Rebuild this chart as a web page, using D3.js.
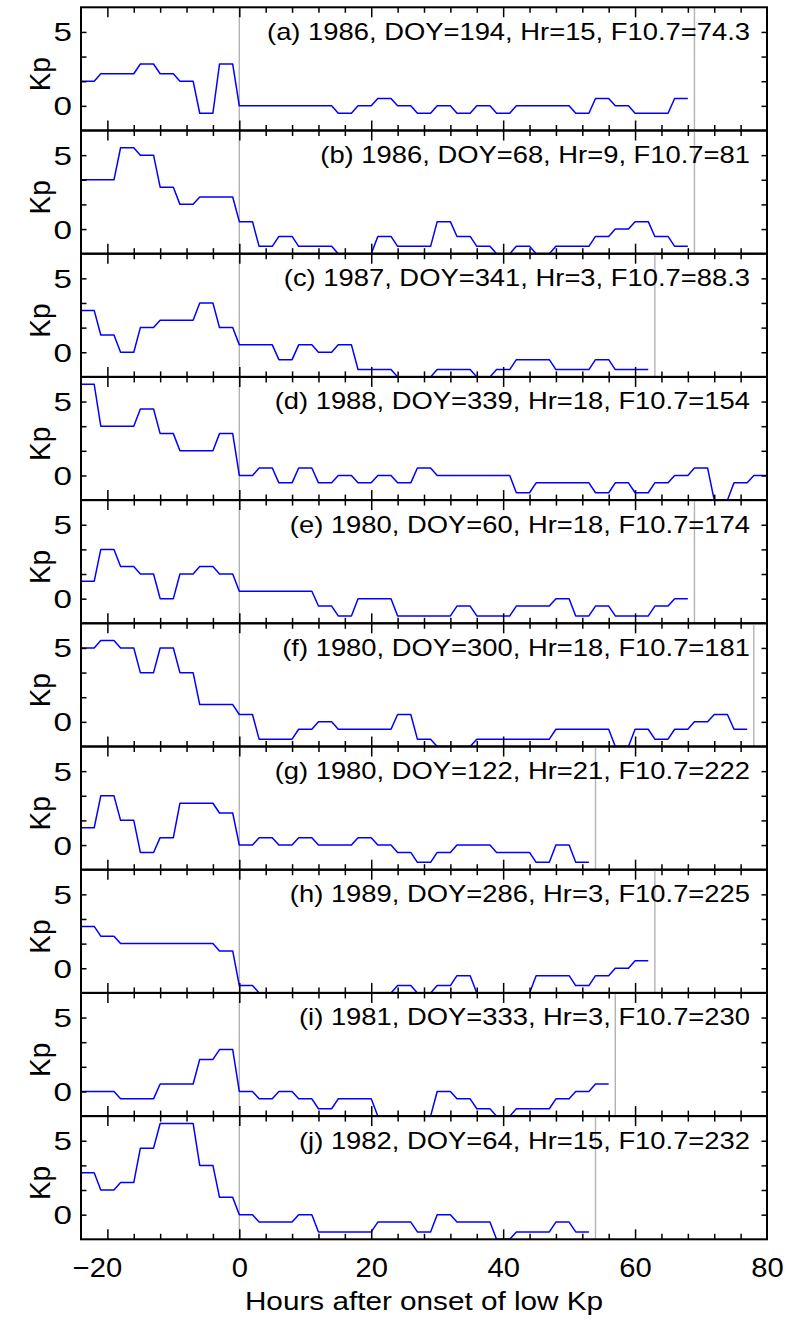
<!DOCTYPE html>
<html>
<head>
<meta charset="utf-8">
<script src="https://cdn.jsdelivr.net/npm/d3@7"></script>
<style>
  html, body { margin: 0; padding: 0; background: #fff; }
  svg { display: block; font-family: "Liberation Sans", Arial, Helvetica, sans-serif; }
</style>
</head>
<body>
<div id="chart"></div>
<script>
// Kp around the onset of a low-Kp interval, 10 events (one panel each)
// each array = 3-hourly Kp, first bin starts at FIRST_HOUR

const FIRST_HOUR = -24;

const kpA = [1.67, 2.17, 2.17, 2.83, 2.17, 1.67, -0.5, 2.83, 0, 0, 0, 0, 0, -0.5, 0, 0.5,
             0, -0.5, 0, -0.5, 0, -0.5, 0, 0, 0, -0.5, 0.5, 0, -0.5, -0.5, 0.5];
const kpB = [3.33, 3.33, 5.5, 5.0, 2.83, 1.67, 2.17, 2.17, 0.5, -1.17, -0.5, -1.17, -1.17, -1.67, -1.67, -0.5,
             -1.17, -1.17, 0.5, -0.5, -1.17, -1.67, -1.17, -1.67, -1.17, -1.17, -0.5, 0, 0.5, -0.5, -1.17];
const kpC = [2.83, 1.17, 0, 1.67, 2.17, 2.17, 3.33, 1.67, 0.5, 0.5, -0.5, 0.5, 0, 0.5, -1.17,
             -1.17, -1.67, -1.67, -1.17, -1.17, -1.67, -1.17, -0.5, -0.5, -1.17, -1.17, -0.5, -1.17, -1.17];
const kpD = [6.17, 3.33, 3.33, 4.5, 2.83, 1.67, 1.67, 2.83, 0, 0.5, -0.5, 0.5, -0.5, 0, -0.5, 0, -0.5, 0.5,
             0, 0, 0, 0, -1.17, -0.5, -0.5, -0.5, -1.17, -0.5, -1.17, -0.5, 0, 0.5, -1.67, -0.5, 0];
const kpE = [1.17, 3.33, 2.17, 1.67, 0, 1.67, 2.17, 1.67, 0.5, 0.5, 0.5, 0.5, -0.5, -1.17, 0, 0,
             -1.17, -1.17, -1.17, -0.5, -1.17, -1.17, -0.5, -0.5, 0, -1.17, -0.5, -1.17, -1.17, -0.5, 0];
const kpF = [5.0, 5.5, 5.0, 3.33, 5.0, 3.33, 1.17, 1.17, 0.5, -1.17, -1.17, -0.5, 0, -0.5, -0.5, -0.5, 0.5,
             -1.17, -1.67, -1.67, -1.17, -1.17, -1.17, -1.17, -0.5, -0.5, -0.5, -1.67, -0.5, -1.17, -0.5, 0, 0.5, -0.5];
const kpG = [1.17, 3.33, 1.67, -0.5, 0.5, 2.83, 2.83, 2.17, 0, 0.5, 0, 0.5, 0, 0,
             0.5, 0, -0.5, -1.17, -0.5, 0, 0, -0.5, -0.5, -1.17, 0, -1.17];
const kpH = [2.83, 2.17, 1.67, 1.67, 1.67, 1.67, 1.67, 1.17, -1.17, -1.67, -1.67, -1.67, -1.67, -1.67, -1.67,
             -1.67, -1.17, -1.67, -1.17, -0.5, -1.67, -1.67, -1.67, -0.5, -0.5, -1.17, -0.5, 0, 0.5];
const kpI = [0, 0, -0.5, -0.5, 0.5, 0.5, 2.17, 2.83, 0, -0.5, 0, -0.5, -1.17, -0.5,
             -0.5, -1.67, -1.67, -1.67, 0, -0.5, -1.17, -1.67, -1.17, -1.17, -0.5, 0, 0.5];
const kpJ = [2.83, 1.67, 2.17, 4.5, 6.17, 6.17, 3.33, 1.17, 0, -0.5, -0.5, 0, -1.17,
             -1.17, -1.17, -0.5, -0.5, -1.17, 0, -0.5, -0.5, -1.67, -1.17, -1.17, -0.5, -1.17];

const panelIds = ['a', 'b', 'c', 'd', 'e', 'f', 'g', 'h', 'i', 'j'];
const years    = [1986, 1986, 1987, 1988, 1980, 1980, 1980, 1989, 1981, 1982];
const doys     = [194, 68, 341, 339, 60, 300, 122, 286, 333, 64];
const hrs      = [15, 9, 3, 18, 18, 18, 21, 3, 3, 15];
const f107     = ['74.3', '81', '88.3', '154', '174', '181', '222', '225', '230', '232'];
const endHours = [69, 69, 63, null, 69, 78, 54, 63, 57, 54];   // grey marker, end of interval

const xTickLabels = [-20, 0, 20, 40, 60, 80];
const yTickLabels = [0, 5];
const xTitle = 'Hours after onset of low Kp';
const yTitle = 'Kp';

const series = [kpA, kpB, kpC, kpD, kpE, kpF, kpG, kpH, kpI, kpJ];

/* ---- layout ----------------------------------------------------------- */
const W = 785, H = 1320;
const X0 = 81, X1 = 767;
const TOP = 7.3, PH = 123.2;
const SX = 1.17;                      // fonts look stretched sideways

const x = d3.scaleLinear().domain([-24, 80]).range([X0, X1]);
const y = d3.scaleLinear().domain([-5 / 3, 20 / 3]).range([PH, 0]);

const svg = d3.select('#chart').append('svg')
  .attr('width', W).attr('height', H);

const defs = svg.append('defs');
defs.append('clipPath').attr('id', 'clip')
  .append('rect').attr('x', X0).attr('y', 0).attr('width', X1 - X0).attr('height', PH);

// 3-hourly value -> hourly samples (value held for the 3 h of its bin)
function toHourly(arr) {
  const out = [];
  arr.forEach((v, i) => {
    for (let k = 0; k < 3; k++) out.push({ h: FIRST_HOUR + 3 * i + k, v });
  });
  return out;
}

const line = d3.line().x(d => x(d.h)).y(d => y(d.v));

const minorX = d3.range(-20, 80, 4).filter(d => d % 20 !== 0);
const majorX = [-20, 0, 20, 40, 60];

function cleanAxis(g) {
  g.select('.domain').remove();
  g.attr('font-family', null).attr('font-size', null);
  g.selectAll('line').attr('stroke', '#000').attr('stroke-width', 1.5);
}

series.forEach((arr, i) => {
  const top = TOP + i * PH;
  const g = svg.append('g').attr('transform', `translate(0,${top})`);

  // grey onset / end lines
  const greys = [0].concat(endHours[i] == null ? [] : [endHours[i]]);
  g.selectAll('line.grey').data(greys).join('line')
    .attr('class', 'grey')
    .attr('x1', d => x(d)).attr('x2', d => x(d))
    .attr('y1', 0).attr('y2', PH)
    .attr('stroke', '#b3b3b3').attr('stroke-width', 1.4);

  // Kp trace
  g.append('path')
    .datum(toHourly(arr))
    .attr('clip-path', 'url(#clip)')
    .attr('fill', 'none')
    .attr('stroke', '#0000ff')
    .attr('stroke-width', 1.5)
    .attr('stroke-linejoin', 'round')
    .attr('d', line);

  // ticks: bottom / top (inward)
  [['b', PH, -1], ['t', 0, 1]].forEach(([, yy, dir]) => {
    const mk = dir < 0 ? d3.axisBottom : d3.axisTop;
    g.append('g').attr('transform', `translate(0,${yy})`)
      .call(mk(x).tickValues(minorX).tickSize(-5.5).tickFormat(''))
      .call(cleanAxis);
    g.append('g').attr('transform', `translate(0,${yy})`)
      .call(mk(x).tickValues(majorX).tickSize(-10).tickFormat(''))
      .call(cleanAxis);
  });

  // left axis with labels, right axis ticks only
  const yt = [0, 5 / 3, 10 / 3, 5];
  const la = g.append('g').attr('transform', `translate(${X0},0)`)
    .call(d3.axisLeft(y).tickValues(yt).tickSize(-5.5)
      .tickFormat(d => yTickLabels.includes(Math.round(d * 100) / 100) ? d : ''))
    .call(cleanAxis);
  la.selectAll('text')
    .attr('x', null).attr('dy', null)
    .attr('font-size', 25.5).attr('fill', '#000')
    .attr('text-anchor', 'end')
    .attr('transform', 'translate(-9,9) scale(1.3,1)');

  g.append('g').attr('transform', `translate(${X1},0)`)
    .call(d3.axisRight(y).tickValues(yt).tickSize(-5.5).tickFormat(''))
    .call(cleanAxis);

  // frame
  g.append('rect')
    .attr('x', X0).attr('y', 0).attr('width', X1 - X0).attr('height', PH)
    .attr('fill', 'none').attr('stroke', '#000').attr('stroke-width', 2);

  // y title
  g.append('text')
    .attr('transform', `translate(50,${66.9}) scale(1.08,1) rotate(-90)`)
    .attr('text-anchor', 'middle')
    .attr('font-size', 28)
    .text(yTitle);

  // event annotation
  g.append('text')
    .attr('transform', `translate(750,32.5) scale(${SX},1)`)
    .attr('text-anchor', 'end')
    .attr('font-size', 23.4)
    .text(`(${panelIds[i]}) ${years[i]}, DOY=${doys[i]}, Hr=${hrs[i]}, F10.7=${f107[i]}`);
});

/* ---- x tick labels + title ------------------------------------------- */
const bottom = TOP + series.length * PH;
const xa = svg.append('g').attr('transform', `translate(0,${bottom})`)
  .call(d3.axisBottom(x).tickValues(xTickLabels).tickSize(0)
    .tickFormat(d => d < 0 ? '\u2212' + Math.abs(d) : d));
xa.select('.domain').remove();
xa.attr('font-family', null).attr('font-size', null);
xa.selectAll('text')
  .attr('y', null).attr('dy', null)
  .attr('font-size', 27).attr('fill', '#000')
  .attr('transform', d => `translate(${d < 0 ? -10.5 : 0},37.5) scale(1.08,1)`);

svg.append('text')
  .attr('transform', `translate(${(X0 + X1) / 2},1310) scale(1.165,1)`)
  .attr('text-anchor', 'middle')
  .attr('font-size', 25.5)
  .text(xTitle);
</script>
</body>
</html>
